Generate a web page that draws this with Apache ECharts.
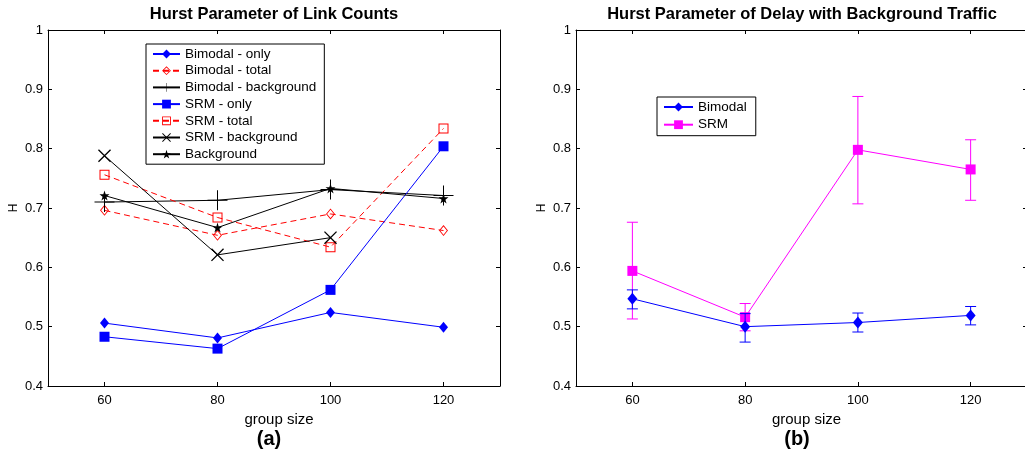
<!DOCTYPE html>
<html><head><meta charset="utf-8">
<script src="https://cdn.jsdelivr.net/npm/echarts@6/dist/echarts.min.js"></script>
<style>html,body{margin:0;padding:0;background:#fff}#c{width:1025px;height:456px}</style>
</head><body><div id="c"></div>
<script>
// ---- data ----
const groupSizes = [60, 80, 100, 120];
const xTickValues = [60, 80, 100, 120];

// (a) Hurst Parameter of Link Counts
const bimodalOnly       = [0.506, 0.481, 0.524, 0.499];
const bimodalTotal      = [0.696, 0.654, 0.690, 0.662];
const bimodalBackground = [0.710, 0.713, 0.731, 0.721];
const srmOnly           = [0.483, 0.463, 0.562, 0.804];
const srmTotal          = [0.756, 0.684, 0.634, 0.834];
const srmBackground     = [0.788, 0.621, 0.650, null];
const backgroundOnly    = [0.721, 0.667, 0.733, 0.716];

// (b) Hurst Parameter of Delay with Background Traffic
const delayBimodal     = [0.547, 0.500, 0.507, 0.519];
const delayBimodalLow  = [0.530, 0.474, 0.491, 0.503];
const delayBimodalHigh = [0.562, 0.522, 0.523, 0.534];
const delaySrm         = [0.594, 0.516, 0.798, 0.765];
const delaySrmLow      = [0.513, 0.493, 0.707, 0.713];
const delaySrmHigh     = [0.676, 0.539, 0.888, 0.815];

const titles = ['Hurst Parameter of Link Counts', 'Hurst Parameter of Delay with Background Traffic'];
const panelLabels = ['(a)', '(b)'];

// ---- helpers ----
const FONT = '"Liberation Sans", Arial, Helvetica, sans-serif';
const pts = arr => groupSizes.map((x, i) => [x, arr[i]]).filter(p => p[1] !== null);

const PLUS = 'path://M-0.5,-10 L0.5,-10 L0.5,10 L-0.5,10 Z M-10,-0.5 L10,-0.5 L10,0.5 L-10,0.5 Z';
const CROSS = 'path://M-7,-6 L-6,-7 L7,6 L6,7 Z M6,-7 L7,-6 L-6,7 L-7,6 Z';
const STAR = 'path://M0,-100 L22.5,-30.9 L95.1,-30.9 L36.3,11.8 L58.8,80.9 L0,38.2 L-58.8,80.9 L-36.3,11.8 L-95.1,-30.9 L-22.5,-30.9 Z';
// hollow outlines (outer minus reversed inner) so lines stay visible through them
const HOLLOW_SQUARE = 'path://M-5,-5 L5,-5 L5,5 L-5,5 Z M-4,-4 L-4,4 L4,4 L4,-4 Z';
const HOLLOW_DIAMOND = 'path://M0,-5.5 L4.5,0 L0,5.5 L-4.5,0 Z M0,-4.1 L-3.35,0 L0,4.1 L3.35,0 Z';

function xAxesFor(gi) {
  const line = {show: true, onZero: false, lineStyle: {color: '#000', width: 1}};
  return [
    {gridIndex: gi, type: 'value', min: 50, max: 130, position: 'bottom',
      axisLine: line,
      axisTick: {show: true, inside: true, length: 4, customValues: xTickValues, lineStyle: {color: '#000'}},
      axisLabel: {show: true, customValues: xTickValues, color: '#000', fontSize: 13, margin: 8, fontFamily: FONT},
      splitLine: {show: false},
      name: 'group size', nameLocation: 'middle', nameGap: 26,
      nameTextStyle: {color: '#000', fontSize: 15, fontFamily: FONT, padding: [0, 0, 0, 10]}},
    {gridIndex: gi, type: 'value', min: 50, max: 130, position: 'top',
      axisLine: line,
      axisTick: {show: true, inside: true, length: 4, customValues: xTickValues, lineStyle: {color: '#000'}},
      axisLabel: {show: false}, splitLine: {show: false}}
  ];
}
function yAxesFor(gi) {
  const line = {show: true, onZero: false, lineStyle: {color: '#000', width: 1}};
  return [
    {gridIndex: gi, type: 'value', min: 0.4, max: 1, interval: 0.1, position: 'left',
      axisLine: line,
      axisTick: {show: true, inside: true, length: 4, lineStyle: {color: '#000'}},
      axisLabel: {color: '#000', fontSize: 13, margin: 5, fontFamily: FONT,
        formatter: v => String(+(+v).toFixed(1))},
      splitLine: {show: false},
      name: 'H', nameLocation: 'middle', nameGap: 28, nameRotate: 90,
      nameTextStyle: {color: '#000', fontSize: 12, fontFamily: FONT}},
    {gridIndex: gi, type: 'value', min: 0.4, max: 1, interval: 0.1, position: 'right',
      axisLine: line,
      axisTick: {show: true, inside: true, length: 4, lineStyle: {color: '#000'}},
      axisLabel: {show: false}, splitLine: {show: false}}
  ];
}

function lineSeries(name, data, color, symbol, size, opts) {
  opts = opts || {};
  return {
    name, type: 'line', xAxisIndex: opts.xi || 0, yAxisIndex: opts.yi || 0,
    data: pts(data), symbol, symbolSize: size, showSymbol: true,
    lineStyle: {color, width: 1, type: opts.dash ? [6, 4] : 'solid'},
    itemStyle: {color, borderWidth: 0, borderColor: color},
    emphasis: {disabled: true}, animation: false, z: opts.z || 2
  };
}

function errorSeries(low, high, color, z) {
  return {
    type: 'custom', xAxisIndex: 2, yAxisIndex: 2, z: z, animation: false, silent: true,
    data: groupSizes.map((x, i) => [x, low[i], high[i]]),
    encode: {x: 0, y: [1, 2]},
    renderItem: (params, api) => {
      const x = api.value(0);
      const lo = api.coord([x, api.value(1)]);
      const hi = api.coord([x, api.value(2)]);
      const w = 5.5;
      const st = {stroke: color, lineWidth: 1};
      return {type: 'group', children: [
        {type: 'line', shape: {x1: lo[0], y1: lo[1], x2: hi[0], y2: hi[1]}, style: st},
        {type: 'line', shape: {x1: lo[0] - w, y1: lo[1], x2: lo[0] + w, y2: lo[1]}, style: st},
        {type: 'line', shape: {x1: hi[0] - w, y1: hi[1], x2: hi[0] + w, y2: hi[1]}, style: st}
      ]};
    }
  };
}

const leftNames = ['Bimodal - only', 'Bimodal - total', 'Bimodal - background', 'SRM - only', 'SRM - total', 'SRM - background', 'Background'];
const rightNames = ['Bimodal', 'SRM'];

const legendText = {fontSize: 13.5, lineHeight: 14, color: '#000', fontFamily: FONT};

const option = {
  backgroundColor: '#fff',
  animation: false,
  textStyle: {fontFamily: FONT, color: '#000'},
  title: [
    {text: titles[0], left: 274, top: 6, textAlign: 'center', padding: 0,
      textStyle: {fontSize: 16.5, fontWeight: 'bold', color: '#000', fontFamily: FONT}},
    {text: titles[1], left: 802, top: 6, textAlign: 'center', padding: 0,
      textStyle: {fontSize: 16.5, fontWeight: 'bold', color: '#000', fontFamily: FONT}},
    {text: panelLabels[0], left: 269, top: 429, textAlign: 'center', padding: 0,
      textStyle: {fontSize: 20, fontWeight: 'bold', color: '#000', fontFamily: FONT}},
    {text: panelLabels[1], left: 797, top: 429, textAlign: 'center', padding: 0,
      textStyle: {fontSize: 20, fontWeight: 'bold', color: '#000', fontFamily: FONT}}
  ],
  grid: [
    {left: 48, top: 30, width: 452, height: 356, outerBoundsMode: 'none', containLabel: false},
    {left: 576, top: 30, width: 451, height: 356, outerBoundsMode: 'none', containLabel: false}
  ],
  xAxis: [...xAxesFor(0), ...xAxesFor(1)],
  yAxis: [...yAxesFor(0), ...yAxesFor(1)],
  legend: [
    {data: leftNames, orient: 'vertical', left: 146, top: 44, itemWidth: 27, itemHeight: 11, itemGap: 2.7,
      padding: [3, 8, 3, 6], borderColor: '#000', borderWidth: 1, backgroundColor: '#fff',
      selectedMode: false, textStyle: legendText},
    {data: rightNames, orient: 'vertical', left: 657, top: 97, itemWidth: 29, itemHeight: 11, itemGap: 3.7,
      padding: [3, 9, 4, 6], borderColor: '#000', borderWidth: 1, backgroundColor: '#fff',
      selectedMode: false, textStyle: legendText}
  ],
  series: [
    lineSeries('Bimodal - only', bimodalOnly, '#0000ff', 'diamond', [9, 11]),
    lineSeries('Bimodal - total', bimodalTotal, '#ff0000', HOLLOW_DIAMOND, [9, 11], {dash: true}),
    lineSeries('Bimodal - background', bimodalBackground, '#000000', PLUS, 20),
    lineSeries('SRM - only', srmOnly, '#0000ff', 'rect', 10),
    lineSeries('SRM - total', srmTotal, '#ff0000', HOLLOW_SQUARE, 10, {dash: true}),
    lineSeries('SRM - background', srmBackground, '#000000', CROSS, 13),
    lineSeries('Background', backgroundOnly, '#000000', STAR, 10),

    errorSeries(delaySrmLow, delaySrmHigh, '#ff00ff', 3),
    lineSeries('SRM', delaySrm, '#ff00ff', 'rect', 10, {xi: 2, yi: 2, z: 4}),
    errorSeries(delayBimodalLow, delayBimodalHigh, '#0000ff', 5),
    lineSeries('Bimodal', delayBimodal, '#0000ff', 'diamond', [10, 12], {xi: 2, yi: 2, z: 6})
  ]
};

const chart = echarts.init(document.getElementById('c'), null, {renderer: 'canvas'});
chart.setOption(option);
</script>
</body></html>
